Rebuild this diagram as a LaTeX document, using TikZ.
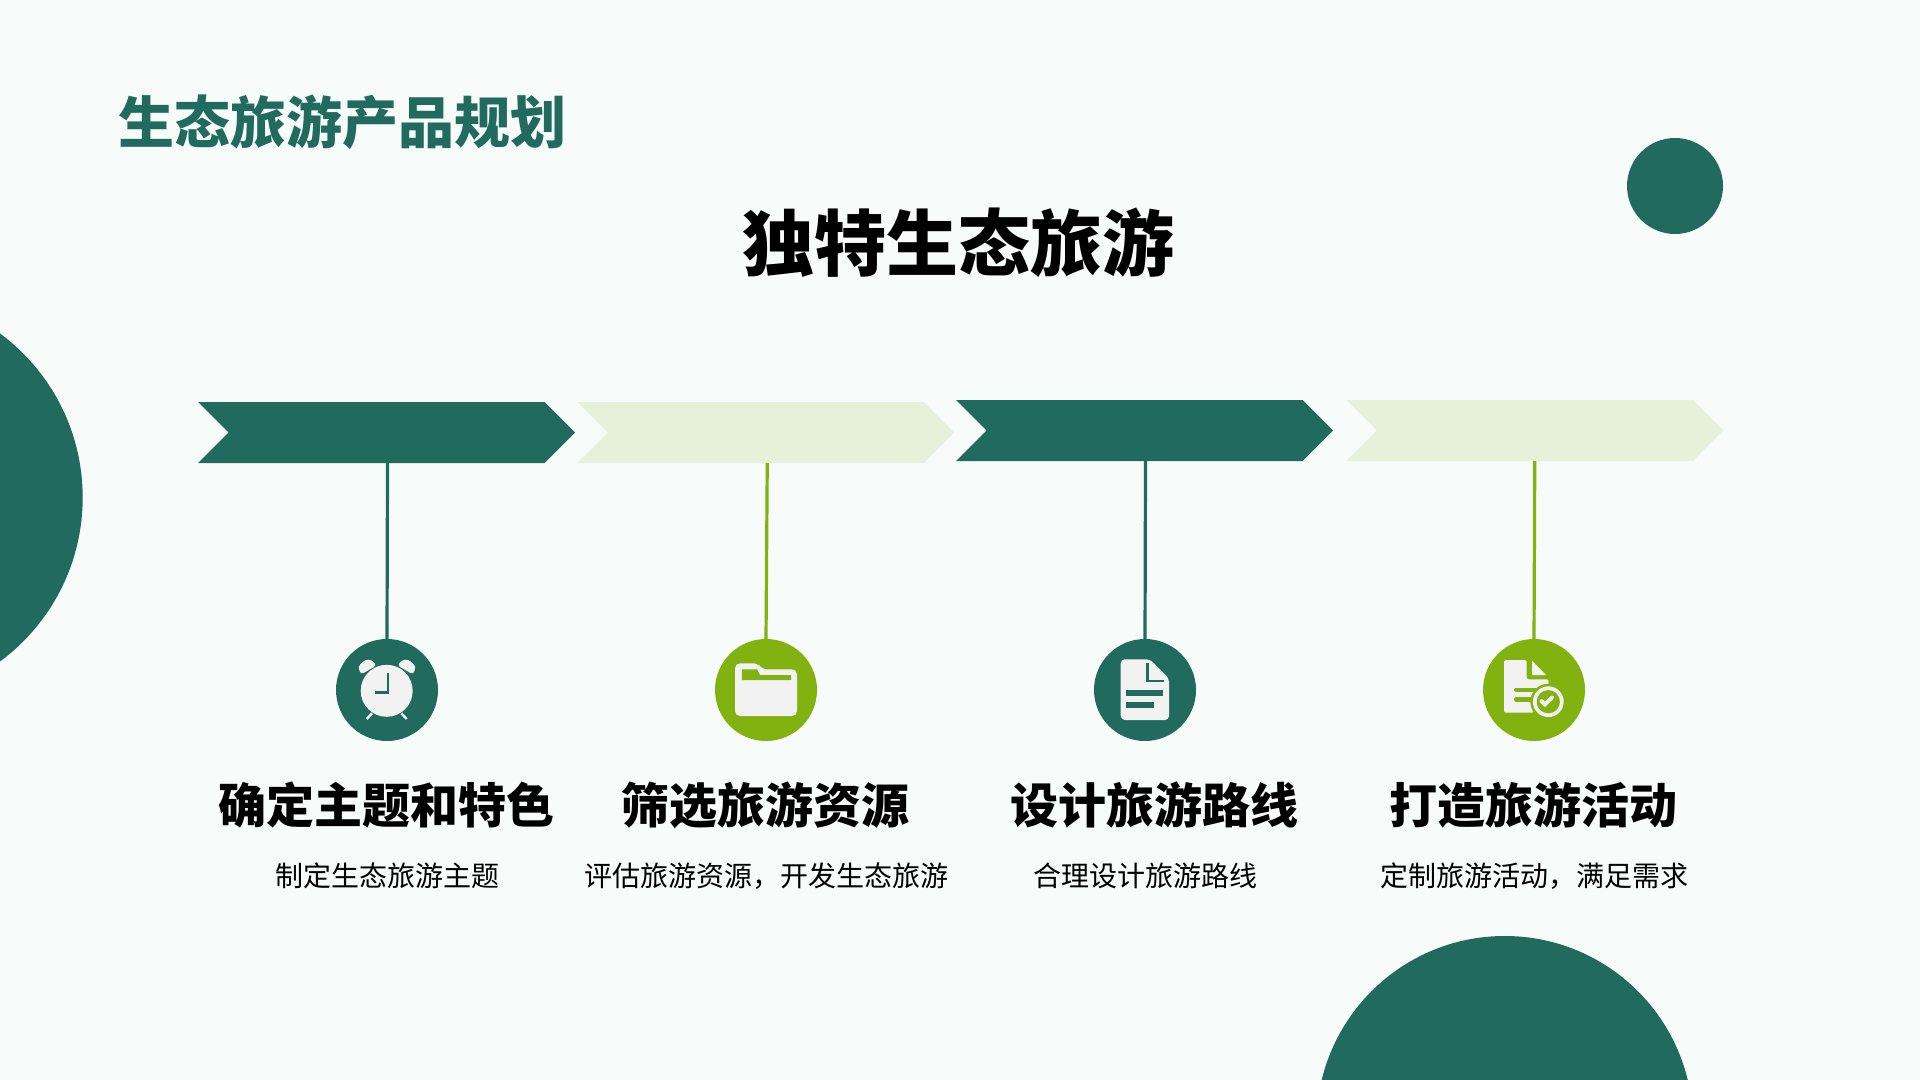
\documentclass[tikz,border=0pt]{standalone}
\usepackage{fontspec}
\setmainfont{Noto Sans CJK SC}
\usetikzlibrary{math,shapes.symbols}
\definecolor{deepgreen}{HTML}{206B5E}
\definecolor{leafgreen}{HTML}{82B210}
\definecolor{palegreen}{HTML}{E5F1D9}
\definecolor{pagebg}{HTML}{F7FCFA}
\definecolor{iconwhite}{HTML}{F2F2F2}
\tikzset{
  arrowdark/.style={signal, signal to=east, signal from=west, signal pointer angle=90, fill=deepgreen, inner sep=0pt, outer sep=0pt, minimum width=188.5pt, minimum height=30.5pt},
  arrowpale/.style={arrowdark, fill=palegreen},
  icondark/.style={circle, fill=deepgreen, inner sep=0pt, outer sep=0pt, minimum size=51pt},
  iconleaf/.style={icondark, fill=leafgreen},
  stemline/.style={line width=1.6pt},
  headtext/.style={font=\fontsize{24pt}{28pt}\selectfont\bfseries, text=black},
  subtext/.style={font=\fontsize{14pt}{18pt}\selectfont, text=black}
}
\begin{document}
\begin{tikzpicture}[x=0.5pt,y=-0.5pt]
  \tikzmath{\ya = 432.5; \yb = 430.5; \yi = 690; \yh = 805; \ys = 876;}
  \fill[pagebg] (0,0) rectangle (1920,1080);
  \useasboundingbox (0,0) rectangle (1920,1080);
  % page decoration
  \fill[deepgreen] (-121.3,497.5) circle (102pt);
  \fill[deepgreen] (1675,186) circle (24pt);
  \fill[deepgreen] (1504.7,1124.3) circle (94.15pt);
  \node[font=\fontsize{28pt}{32pt}\selectfont\bfseries, text=deepgreen] (title) at (342.5,122) {生态旅游产品规划};
  \node[font=\fontsize{36pt}{40pt}\selectfont\bfseries, text=black] (maintitle) at (958.5,243) {独特生态旅游};
  % chevrons
  \node[arrowdark] (chevA) at (386.5,\ya) {};
  \node[arrowpale] (chevB) at (765.75,\ya) {};
  \node[arrowdark] (chevC) at (1144.5,\yb) {};
  \node[arrowpale] (chevD) at (1534.75,\yb) {};
  % icon discs
  \node[icondark] (iconA) at (387,\yi) {};
  \node[iconleaf] (iconB) at (766,\yi) {};
  \node[icondark] (iconC) at (1145,\yi) {};
  \node[iconleaf] (iconD) at (1534,\yi) {};
  \draw[deepgreen, stemline] ([xshift=0.5pt]chevA.south) -- (iconA.north);
  \draw[leafgreen, stemline] ([xshift=0.75pt]chevB.south) -- (iconB.north);
  \draw[deepgreen, stemline] ([xshift=0.5pt]chevC.south) -- (iconC.north);
  \draw[leafgreen, stemline] (chevD.south) -- (iconD.north);
  % clock
  \fill[iconwhite] (386.7,690.8) circle (13pt);
  \fill[iconwhite, rounded corners=1.5pt] (361,674.5) -- (358,666.5) -- (365.5,659.5) -- (372,660) -- (376.5,665.5) -- cycle;
  \fill[iconwhite, rounded corners=1.5pt] (413,674.5) -- (416,666.5) -- (408.5,659.5) -- (402,660) -- (397.5,665.5) -- cycle;
  \draw[iconwhite, line width=1.2pt] (366.7,719) -- (372,713.3);
  \draw[iconwhite, line width=1.2pt] (406.7,719) -- (401.4,713.3);
  \draw[deepgreen, line width=1.2pt] (388.2,673.3) -- (388.2,692.5) -- (375,692.5);
  % folder
  \fill[iconwhite, rounded corners=2.5pt] (735,663.3) -- (758,663.3) -- (762,669.3) -- (797,669.3) -- (797,716) -- (735,716) -- cycle;
  \fill[leafgreen] (741.8,669.3) -- (757,669.3) -- (760,675) -- (791,675) -- (791,680) -- (741.8,680) -- cycle;
  % document
  \fill[iconwhite, rounded corners=2pt] (1120.7,659.3) -- (1150,659.3) -- (1169,678.3) -- (1169,720) -- (1120.7,720) -- cycle;
  \draw[deepgreen, line width=1.2pt] (1147.3,663.3) -- (1147.3,680.7) -- (1164,680.7);
  \fill[deepgreen] (1126,690) rectangle (1162.7,696);
  \fill[deepgreen] (1126,701.7) rectangle (1154,708.3);
  % document with check
  \fill[iconwhite, rounded corners=1pt] (1504,660) -- (1526.7,660) -- (1526.7,679.3) -- (1548.7,679.3) -- (1548.7,695) -- (1534,712.7) -- (1504,712.7) -- cycle;
  \fill[iconwhite] (1532,660.7) -- (1532,675) -- (1546,675) -- cycle;
  \draw[leafgreen, line width=2.1pt, line cap=round] (1516,689.7) -- (1535,689.7);
  \draw[leafgreen, line width=2.1pt, line cap=round] (1516,699.5) -- (1530,699.5);
  \fill[leafgreen] (1548.3,701.7) circle (9pt);
  \fill[iconwhite] (1548.3,701.7) circle (7.7pt);
  \fill[leafgreen] (1548.3,701.7) circle (5.8pt);
  \draw[iconwhite, line width=2pt, line cap=round] (1541.5,701) -- (1544.8,704.4) -- (1552,697.5);
  % captions
  \node[headtext] (headA) at (386,\yh) {确定主题和特色};
  \node[headtext] (headB) at (765,\yh) {筛选旅游资源};
  \node[headtext] (headC) at (1154.8,\yh) {设计旅游路线};
  \node[headtext] (headD) at (1533.3,\yh) {打造旅游活动};
  \node[subtext] (subA) at (387,\ys) {制定生态旅游主题};
  \node[subtext] (subB) at (766,\ys) {评估旅游资源，开发生态旅游};
  \node[subtext] (subC) at (1145,\ys) {合理设计旅游路线};
  \node[subtext] (subD) at (1534,\ys) {定制旅游活动，满足需求};
\end{tikzpicture}
\end{document}
